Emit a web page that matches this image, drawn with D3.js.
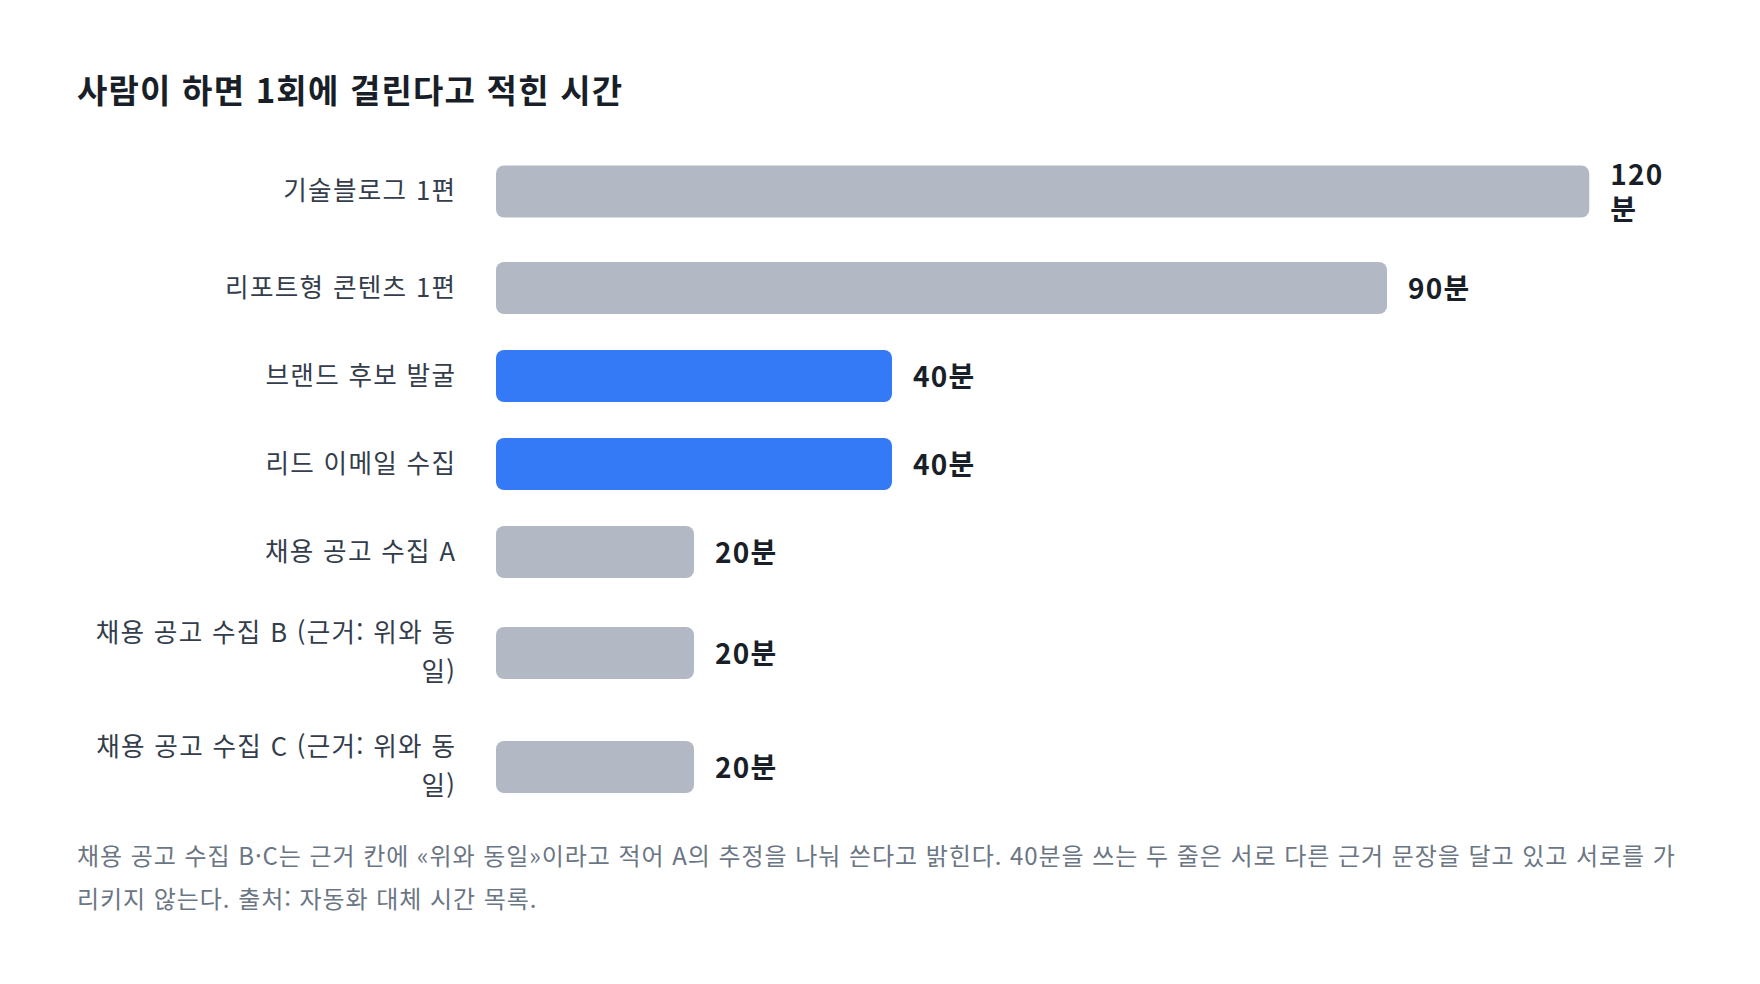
<!DOCTYPE html>
<html lang="ko">
<head>
<meta charset="utf-8">
<script src="https://cdn.jsdelivr.net/npm/d3@7"></script>
<style>
  html, body { margin: 0; padding: 0; background: #ffffff; }
  svg { display: block; }
  text { font-family: "Noto Sans CJK KR", "Noto Sans", sans-serif; }
</style>
</head>
<body>
<svg id="chart" width="1760" height="984"></svg>
<script>
// ---- data ----
const title = "사람이 하면 1회에 걸린다고 적힌 시간";
const categories = [
  "기술블로그 1편",
  "리포트형 콘텐츠 1편",
  "브랜드 후보 발굴",
  "리드 이메일 수집",
  "채용 공고 수집 A",
  "채용 공고 수집 B (근거: 위와 동일)",
  "채용 공고 수집 C (근거: 위와 동일)"
];
const minutes = [120, 90, 40, 40, 20, 20, 20];
const highlighted = [false, false, true, true, false, false, false];
const unit = "분";
const footnote = "채용 공고 수집 B·C는 근거 칸에 «위와 동일»이라고 적어 A의 추정을 나눠 쓴다고 밝힌다. 40분을 쓰는 두 줄은 서로 다른 근거 문장을 달고 있고 서로를 가리키지 않는다. 출처: 자동화 대체 시간 목록.";

(function draw() {
  // ---- styles / layout ----
  const W = 1760, H = 984;
  const padL = 77, contentW = 1607;
  const labelColW = 378, colGap = 41;
  const trackX = padL + labelColW + colGap;
  const trackW = padL + contentW - trackX;
  const barH = 52, barR = 8, rowGap = 36;
  const labelFont = 25.6, labelLH = 39, labelLS = 1.3;
  const valueFont = 28, valueLH = 34.5, valueGap = 21, valueLS = 1.2;
  const titleFont = 33, titleLS = 1.2;
  const footFont = 24, footLH = 42.5, footLS = 0.95;
  const firstRowTop = 157;
  const colors = { bar: "#b2b9c4", hi: "#3479f6", title: "#191f28", label: "#333d4b", value: "#191f28", foot: "#6b7684" };

  const svg = d3.select("#chart");
  svg.append("rect").attr("width", W).attr("height", H).attr("fill", "#fff");

  const measurer = svg.append("text").attr("x", -9999).attr("y", -9999);
  function measure(str, size, weight, ls) {
    measurer.attr("font-size", size).attr("font-weight", weight)
      .attr("letter-spacing", ls).text(str);
    return measurer.node().getComputedTextLength();
  }
  function tokenize(s) {
    return s.match(/[(«]*(?:[가-힣]|[A-Za-z0-9·]+|[^\s])[)».:,]*|\s+/g) || [];
  }
  function wrap(str, maxW, size, weight, ls) {
    const toks = tokenize(str);
    const lines = [];
    let line = "", pendingSpace = false;
    toks.forEach(t => {
      if (/^\s+$/.test(t)) { if (line) pendingSpace = true; return; }
      const cand = line + (pendingSpace ? " " : "") + t;
      if (line && measure(cand, size, weight, ls) > maxW) {
        lines.push(line);
        line = t;
      } else {
        line = cand;
      }
      pendingSpace = false;
    });
    if (line) lines.push(line);
    return lines;
  }

  const x = d3.scaleLinear().domain([0, d3.max(minutes)]).range([0, trackW]);

  // layout rows
  const rows = [];
  let rowTop = firstRowTop;
  categories.forEach((c, i) => {
    const v = minutes[i];
    const valueText = v + unit;
    const labelLines = wrap(c, labelColW, labelFont, 400, labelLS);
    const natural = x(v);
    const vw = measure(valueText, valueFont, 700, valueLS);
    let barW = natural, valueLines = [valueText];
    const overflow = natural + valueGap + vw - trackW;
    if (overflow > 0) {
      barW = natural - overflow * natural / (natural + vw);
      const labelMax = vw - overflow * vw / (natural + vw);
      valueLines = wrap(valueText, labelMax, valueFont, 700, valueLS);
    }
    const h = Math.max(barH, labelLines.length * labelLH, valueLines.length * valueLH);
    rows.push({ c, v, hi: highlighted[i], labelLines, valueLines, barW, top: rowTop, h, cy: rowTop + h / 2 });
    rowTop += h + rowGap;
  });
  const lastBottom = rows[rows.length - 1].top + rows[rows.length - 1].h;
  const footLines = wrap(footnote, contentW, footFont, 400, footLS);
  measurer.remove();

  // title
  svg.append("text")
    .attr("x", padL).attr("y", 91.5)
    .attr("dy", "-0.09em")
    .attr("dominant-baseline", "central")
    .attr("font-size", titleFont).attr("font-weight", 700)
    .attr("letter-spacing", titleLS)
    .attr("fill", colors.title)
    .text(title);

  const g = svg.append("g");
  const row = g.selectAll("g.row").data(rows).join("g").attr("class", "row");

  // category labels: one text element per row, lines as tspans
  row.append("text")
    .attr("class", "cat")
    .attr("text-anchor", "end")
    .attr("dominant-baseline", "central")
    .attr("font-size", labelFont)
    .attr("letter-spacing", labelLS)
    .attr("fill", colors.label)
    .each(function (d) {
      const n = d.labelLines.length;
      d3.select(this).selectAll("tspan").data(d.labelLines).join("tspan")
        .attr("x", padL + labelColW + labelLS)
        .attr("y", (l, j) => d.cy + (j - (n - 1) / 2) * labelLH - 0.12 * labelFont)
        .text(l => l);
    });

  // bars
  row.append("rect")
    .attr("x", trackX)
    .attr("y", d => d.cy - barH / 2)
    .attr("width", d => d.barW)
    .attr("height", barH)
    .attr("rx", barR).attr("ry", barR)
    .attr("fill", d => d.hi ? colors.hi : colors.bar);

  // value labels: one text element per row, lines as tspans
  row.append("text")
    .attr("class", "val")
    .attr("dominant-baseline", "central")
    .attr("font-size", valueFont)
    .attr("font-weight", 700)
    .attr("letter-spacing", valueLS)
    .attr("fill", colors.value)
    .each(function (d) {
      const n = d.valueLines.length;
      d3.select(this).selectAll("tspan").data(d.valueLines).join("tspan")
        .attr("x", trackX + d.barW + valueGap)
        .attr("y", (l, j) => d.cy + (j - (n - 1) / 2) * valueLH - 0.04 * valueFont)
        .text(l => l);
    });

  // footnote
  const footTop = lastBottom + 28;
  svg.append("text")
    .attr("dominant-baseline", "central")
    .attr("font-size", footFont)
    .attr("letter-spacing", footLS)
    .attr("fill", colors.foot)
    .selectAll("tspan").data(footLines).join("tspan")
    .attr("x", padL)
    .attr("y", (l, j) => footTop + footLH / 2 + j * footLH - 0.05 * footFont)
    .text(l => l);
})();
</script>
</body>
</html>
